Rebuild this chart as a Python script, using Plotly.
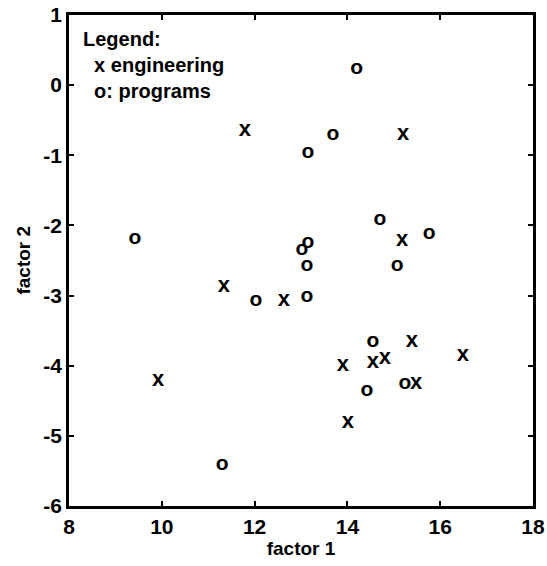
import plotly.graph_objects as go

# engineering points (x marks)
eng_f1 = [11.79, 15.20, 15.18, 11.34, 12.63, 9.92, 13.90, 14.55, 14.81, 15.39, 16.49, 15.48, 14.01]
eng_f2 = [-0.64, -0.71, -2.21, -2.87, -3.07, -4.21, -3.99, -3.96, -3.89, -3.66, -3.85, -4.25, -4.81]

# program points (o marks)
prog_f1 = [14.20, 13.69, 13.15, 14.70, 15.76, 13.15, 13.02, 13.13, 15.07, 13.13, 12.03, 9.42, 14.55, 15.24, 14.42, 11.30]
prog_f2 = [0.24, -0.71, -0.97, -1.92, -2.12, -2.25, -2.34, -2.58, -2.57, -3.02, -3.07, -2.19, -3.66, -4.25, -4.36, -5.41]

x_ticks = [8, 10, 12, 14, 16, 18]
y_ticks = [1, 0, -1, -2, -3, -4, -5, -6]

FONT = "Liberation Sans, Arial, sans-serif"

fig = go.Figure()
fig.add_trace(go.Scatter(x=eng_f1, y=eng_f2, mode="text", text=["<b>x</b>"] * len(eng_f1),
                         textposition="middle center",
                         textfont=dict(family=FONT, size=22, color="black"),
                         showlegend=False, hoverinfo="skip"))
fig.add_trace(go.Scatter(x=prog_f1, y=prog_f2, mode="text", text=["<b>o</b>"] * len(prog_f1),
                         textposition="middle center",
                         textfont=dict(family=FONT, size=21, color="black"),
                         showlegend=False, hoverinfo="skip"))

fig.add_annotation(xref="paper", yref="paper", x=0.026, y=0.978, xanchor="left", yanchor="top",
                   align="left", showarrow=False,
                   text="<b>Legend:<br>  x engineering<br>  o: programs</b>",
                   font=dict(family=FONT, size=20, color="black"))

# y axis title placed as a rotated annotation for exact positioning
fig.add_annotation(xref="paper", yref="paper", x=-0.099, y=0.5, xanchor="center", yanchor="middle",
                   textangle=-90, showarrow=False, text="<b>factor 2</b>",
                   font=dict(family=FONT, size=19, color="black"))

axis_common = dict(showline=True, linecolor="black", linewidth=2.5, mirror="ticks",
                   ticks="inside", ticklen=5, tickwidth=2, tickcolor="black",
                   showgrid=False, zeroline=False, automargin=False,
                   tickfont=dict(family=FONT, size=21, color="black"))

fig.update_xaxes(range=[8, 18], tickvals=x_ticks, ticktext=["<b>%d</b>" % v for v in x_ticks],
                 title=dict(text="<b>factor 1</b>", font=dict(family=FONT, size=19, color="black"), standoff=4),
                 **axis_common)
fig.update_yaxes(range=[-6, 1], tickvals=y_ticks, ticktext=["<b>%d</b>" % v for v in y_ticks],
                 **axis_common)

fig.update_layout(width=547, height=566, margin=dict(l=69, r=14, t=15, b=60),
                  plot_bgcolor="white", paper_bgcolor="white", showlegend=False)

# remove the default page margin so the figure fills the window exactly
fig.write_html("out.html", config={"displayModeBar": False},
               post_script="document.body.style.margin='0';")
